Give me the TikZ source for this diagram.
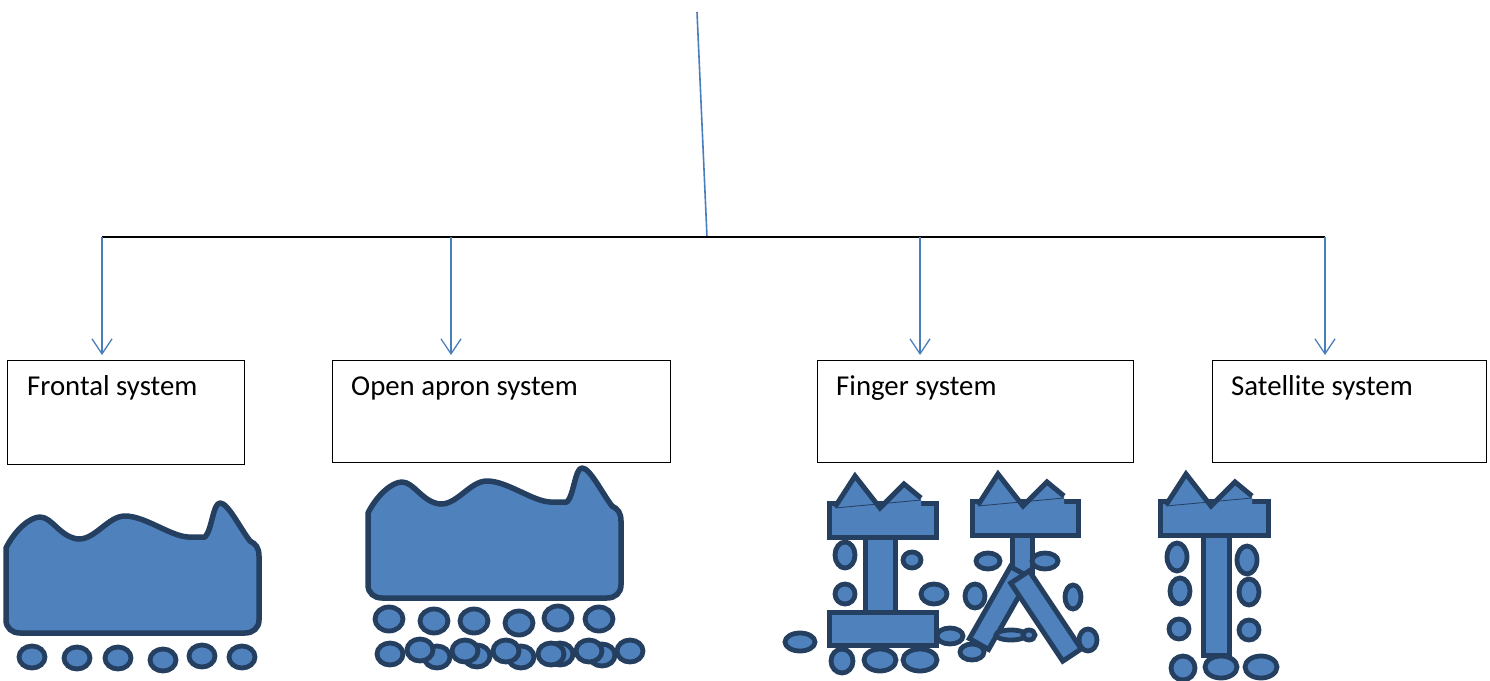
\documentclass[tikz,border=0pt]{standalone}
\usepackage{fontspec}
\setmainfont{Carlito}
\usetikzlibrary{arrows.meta}
\definecolor{shapefill}{RGB}{79,129,189}
\definecolor{shapeedge}{RGB}{36,63,96}
\definecolor{linkblue}{RGB}{74,126,187}
\tikzset{
  catbox/.style={draw=black, line width=1pt, fill=white, anchor=north west, inner sep=0pt},
  cattext/.style={anchor=base west, inner sep=0pt, font=\fontsize{28.8}{34}\selectfont},
  branch/.style={draw=linkblue, line width=1.3pt, -{Straight Barb[length=15pt,width=20pt,line width=1.3pt]}, shorten >=5pt},
  blob/.style={fill=shapefill, draw=shapeedge, line width=5.5pt, line join=round},
  part/.style={fill=shapefill, draw=shapeedge, line width=5pt, line join=miter},
  pebble/.style={fill=shapefill, draw=shapeedge, line width=4.8pt},
  crownfill/.style={fill=shapefill},
  crownbase/.style={draw=shapeedge, line width=0.8pt},
  crownedge/.style={draw=shapeedge, line width=5pt, line join=miter},
}
% wavy-topped block, drawn relative to the current origin
\newcommand{\wavyblock}{%
  \path[blob] (6,548) .. controls (15,530) and (30,517) .. (40,517)
    .. controls (52,517) and (60,537) .. (78,539)
    .. controls (95,540) and (108,516) .. (125,516)
    .. controls (145,516) and (170,536) .. (188,537) -- (205,537)
    .. controls (212,530) and (213,503) .. (220,503)
    .. controls (228,503) and (240,528) .. (250,541)
    .. controls (256,544) and (259,548) .. (259,556) -- (259,620)
    .. controls (259,628) and (253,633) .. (245,633) -- (20,633)
    .. controls (12,633) and (6,628) .. (6,620) -- cycle;}
% bar with a zigzag crown; #1 = left, #2 = right, #3 = top
\newcommand{\crownbar}[3]{%
  \path[part] (#1,#3) rectangle (#2,#3+34);
  \path[crownfill] (#1+6,#3+4) -- (#1+26,#3-27) -- (#1+51,#3+5) -- (#1+75,#3-19) -- (#1+92,#3-5) -- (#1+92,#3+4) -- cycle;
  \path[crownbase] (#1+6,#3+5) -- (#1+92,#3-3);
  \path[crownedge] (#1+6,#3+4) -- (#1+26,#3-27) -- (#1+51,#3+5) -- (#1+75,#3-19) -- (#1+92,#3-5);}
\begin{document}
\begin{tikzpicture}[x=1pt,y=-1pt]
\useasboundingbox (0,0) rectangle (1490,680);

% tree of categories
\coordinate (root) at (697,12);
\coordinate (hub) at (707,237);
\coordinate (j1) at (102,237);
\coordinate (j2) at (451,237);
\coordinate (j3) at (920,237);
\coordinate (j4) at (1325,237);
\draw[linkblue, line width=1.6pt] (root) -- (hub);
\draw[black, line width=1.6pt] (j1) -- (j4);

\node[catbox, minimum width=237pt, minimum height=104pt] (frontal) at (7,360) {};
\node[catbox, minimum width=338pt, minimum height=102pt] (apron) at (332,360) {};
\node[catbox, minimum width=316pt, minimum height=102pt] (finger) at (817,360) {};
\node[catbox, minimum width=274pt, minimum height=102pt] (satellite) at (1212,360) {};

\node[cattext] (tfrontal) at (27,395) {Frontal system};
\node[cattext] (tapron) at (351,395) {Open apron system};
\node[cattext] (tfinger) at (836,395) {Finger system};
\node[cattext] (tsatellite) at (1231,395) {Satellite system};

\draw[branch] (j1) -- (j1 |- frontal.north);
\draw[branch] (j2) -- (j2 |- apron.north);
\draw[branch] (j3) -- (j3 |- finger.north);
\draw[branch] (j4) -- (j4 |- satellite.north);

% frontal layout
\wavyblock
\foreach \x/\y in {32/657,77/658,118/658,163/660,202/656,242/657}
  \path[pebble] (\x,\y) ellipse [x radius=13, y radius=11];

% open apron layout
\begin{scope}[shift={(362,-35)}]
  \wavyblock
\end{scope}
\foreach \x/\y in {389/619,434/621,474/621,519/623,558/618,599/619}
  \path[pebble] (\x,\y) ellipse [x radius=14, y radius=12];
\foreach \x/\y in {390/654,437/657,420/650,477/656,465/651,521/657,506/651,560/654,551/654,602/655,589/651,630/651}
  \path[pebble] (\x,\y) ellipse [x radius=13, y radius=11];

% finger layout: straight pier
\path[part] (865,537) rectangle (895,612);
\crownbar{829}{936}{503}
\path[part] (829,612) rectangle (936,645);
\path[pebble] (845,555) ellipse [x radius=10, y radius=13];
\path[pebble] (845,594) ellipse [x radius=10, y radius=10];
\path[pebble] (912,560) ellipse [x radius=9, y radius=8];
\path[pebble] (934,594) ellipse [x radius=13, y radius=10];
\path[pebble] (800,642) ellipse [x radius=15, y radius=9];
\path[pebble] (842,661) ellipse [x radius=11, y radius=12];
\path[pebble] (880,660) ellipse [x radius=16, y radius=11];
\path[pebble] (920,660) ellipse [x radius=17, y radius=11];
\path[pebble] (950,636) ellipse [x radius=13, y radius=8];

% finger layout: forked pier
\path[part] (1012,535) rectangle (1032,578);
\crownbar{972}{1078}{501}
\path[part] (1029.6,577.4) -- (1010.4,566.6) -- (969.4,638.6) -- (988.6,649.4) -- cycle;
\path[part] (1029.2,570.9) -- (1010.8,583.1) -- (1062.8,661.1) -- (1081.2,648.9) -- cycle;
\path[pebble] (988,561) ellipse [x radius=12, y radius=8];
\path[pebble] (1045,561) ellipse [x radius=13, y radius=8];
\path[pebble] (975,596) ellipse [x radius=10, y radius=12];
\path[pebble] (1073,597) ellipse [x radius=8, y radius=12];
\path[pebble] (1088,640) ellipse [x radius=9, y radius=11];
\path[pebble] (1011,635) ellipse [x radius=15, y radius=5];
\path[pebble] (1029,635) ellipse [x radius=6, y radius=5];
\path[pebble] (972,652) ellipse [x radius=12, y radius=8];

% satellite layout
\path[part] (1203,535) rectangle (1229,655);
\crownbar{1160}{1268}{501}
\path[pebble] (1177,557) ellipse [x radius=10, y radius=14];
\path[pebble] (1180,591) ellipse [x radius=10, y radius=13];
\path[pebble] (1179,629) ellipse [x radius=10, y radius=10];
\path[pebble] (1247,560) ellipse [x radius=10, y radius=14];
\path[pebble] (1249,592) ellipse [x radius=10, y radius=13];
\path[pebble] (1249,630) ellipse [x radius=10, y radius=10];
\path[pebble] (1183,668) ellipse [x radius=12, y radius=12];
\path[pebble] (1221,667) ellipse [x radius=16, y radius=11];
\path[pebble] (1261,667) ellipse [x radius=16, y radius=11];
\end{tikzpicture}
\end{document}
